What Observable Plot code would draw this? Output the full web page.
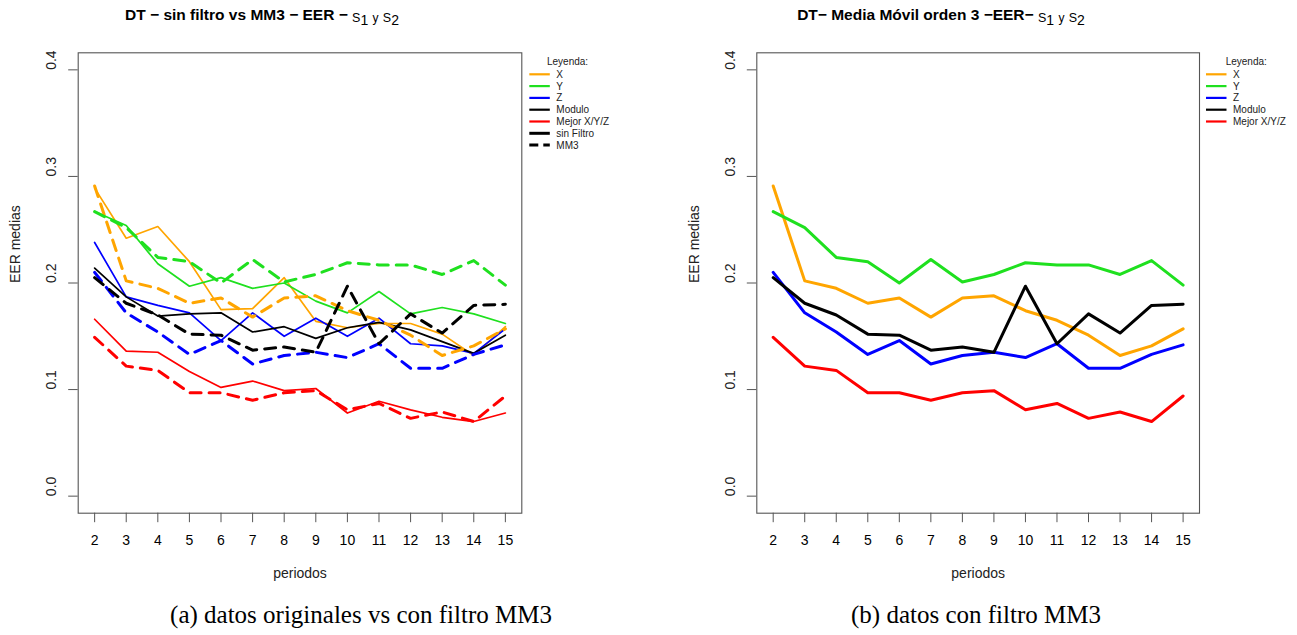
<!DOCTYPE html>
<html><head><meta charset="utf-8">
<script src="https://cdn.jsdelivr.net/npm/d3@7"></script>
<script src="https://cdn.jsdelivr.net/npm/@observablehq/plot@0.6"></script>
<style>
body{margin:0;background:#fff;font-family:"Liberation Sans",Arial,sans-serif;}
#wrap{position:relative;width:1297px;height:635px;overflow:hidden;background:#fff;}
.panel{position:absolute;top:0;}
.title{position:absolute;font-weight:bold;font-size:15.5px;line-height:18px;white-space:nowrap;transform:translateX(-50%);color:#000;}
.title .s{font-weight:normal;font-size:12.5px;position:relative;top:2px;}
.title .d{font-weight:normal;font-size:14px;position:relative;top:5px;}
.title .y{font-weight:normal;font-size:12px;position:relative;top:2px;}
.caption{position:absolute;font-family:"Liberation Serif","DejaVu Serif",serif;font-size:25px;white-space:nowrap;transform:translateX(-50%);color:#000;}
svg.leg{position:absolute;left:0;top:0;overflow:visible;}
</style></head><body><div id="wrap"></div>
<script>
// ---- data ----
const periods = [2,3,4,5,6,7,8,9,10,11,12,13,14,15];
const periodLabels = ["2","3","4","5","6","7","8","9","10","11","12","13","14","15"];
const yTicks = [0, 0.1, 0.2, 0.3, 0.4];
const yTickLabels = ["0.0","0.1","0.2","0.3","0.4"];

const seriesNames = ["X","Y","Z","Modulo","Mejor X/Y/Z"];
const seriesColors = ["#FFA500","#1FE01F","#0000FF","#000000","#FF0000"];

// sin filtro (original data)
const rawX    = [0.289,0.242,0.253,0.220,0.175,0.176,0.205,0.164,0.158,0.162,0.162,0.152,0.132,0.159];
const rawY    = [0.267,0.254,0.218,0.197,0.205,0.195,0.200,0.183,0.172,0.192,0.171,0.177,0.171,0.162];
const rawZ    = [0.238,0.187,0.179,0.172,0.146,0.172,0.150,0.167,0.150,0.167,0.143,0.141,0.134,0.157];
const rawMod  = [0.214,0.187,0.169,0.171,0.172,0.154,0.159,0.148,0.158,0.163,0.156,0.145,0.134,0.151];
const rawBest = [0.166,0.136,0.135,0.117,0.102,0.108,0.099,0.101,0.078,0.089,0.081,0.074,0.070,0.078];

// media movil orden 3 (MM3)
const mmX    = [0.291,0.202,0.195,0.181,0.186,0.168,0.186,0.188,0.174,0.165,0.151,0.132,0.141,0.157];
const mmY    = [0.267,0.252,0.224,0.220,0.200,0.222,0.201,0.208,0.219,0.217,0.217,0.208,0.221,0.198];
const mmZ    = [0.210,0.172,0.154,0.133,0.146,0.124,0.132,0.135,0.130,0.143,0.120,0.120,0.133,0.142];
const mmMod  = [0.205,0.181,0.170,0.152,0.151,0.137,0.140,0.135,0.197,0.143,0.171,0.153,0.179,0.180];
const mmBest = [0.149,0.122,0.118,0.097,0.097,0.090,0.097,0.099,0.081,0.087,0.073,0.079,0.070,0.094];

const titleLeft = "DT − sin filtro vs MM3 − EER − ";
const titleRight = "DT− Media Móvil orden 3 −EER− ";
const captionLeft = "(a) datos originales vs con filtro MM3";
const captionRight = "(b) datos con filtro MM3";
const xLabel = "periodos";
const yLabel = "EER medias";
const legendTitle = "Leyenda:";
const legendExtraLeft = ["sin Filtro","MM3"];

// ---- build ----
const rawSeries = [rawX, rawY, rawZ, rawMod, rawBest];
const mmSeries = [mmX, mmY, mmZ, mmMod, mmBest];
function rows(arrs) {
  const out = [];
  arrs.forEach((vals, s) => periods.forEach((p, i) => out.push({p, v: vals[i], key: seriesNames[s]})));
  return out;
}
const rawRows = rows(rawSeries);
const mmRows = rows(mmSeries);
const colorScale = {domain: seriesNames, range: seriesColors};

function commonMarks(frameLeftDx) {
  return [
    Plot.frame({stroke: "#555", strokeWidth: 1.1}),
    Plot.axisX({ticks: periods, tickSize: 9.5, tickPadding: 12, stroke: "#555", fontSize: 14,
      tickFormat: d => periodLabels[periods.indexOf(d)], label: null}),
    Plot.axisY({ticks: yTicks, tickSize: 9.5, stroke: "#555", tickFormat: () => "", label: null}),
    Plot.text(yTicks, {y: d => d, text: (d, i) => yTickLabels[i], frameAnchor: "left", dx: -26.7, rotate: -90, fontSize: 14, fill: "#222"}),
    Plot.text([yLabel], {text: d => d, frameAnchor: "left", dx: frameLeftDx, rotate: -90, fontSize: 14, fill: "#222"}),
    Plot.text([xLabel], {text: d => d, frameAnchor: "bottom", dy: 64.3, fontSize: 14, fill: "#222"})
  ];
}

const base = {
  width: 648, height: 600,
  marginTop: 52.3, marginBottom: 87.3,
  x: {domain: [1.48, 15.52]},
  y: {domain: [-0.016, 0.416]},
  color: colorScale,
  style: {fontFamily: "'Liberation Sans', Arial, sans-serif", fontSize: "14px", color: "#000", background: "transparent", overflow: "visible"}
};

const left = Plot.plot({
  ...base,
  marginLeft: 77.7, marginRight: 648 - 521.3,
  marks: [
    ...commonMarks(-62.7),
    Plot.line(rawRows, {x: "p", y: "v", z: "key", stroke: "key", strokeWidth: 1.7}),
    Plot.line(mmRows, {x: "p", y: "v", z: "key", stroke: "key", strokeWidth: 3, strokeDasharray: "11,8"})
  ]
});

const right = Plot.plot({
  ...base,
  marginLeft: 756.3 - 678, marginRight: 648 - (1199 - 678),
  marks: [
    ...commonMarks(-62.3),
    Plot.line(mmRows, {x: "p", y: "v", z: "key", stroke: "key", strokeWidth: 3})
  ]
});

const wrap = document.getElementById("wrap");
left.classList.add("panel"); left.style.left = "0px";
right.classList.add("panel"); right.style.left = "678px";
wrap.appendChild(left);
wrap.appendChild(right);

// titles
function addTitle(text, cx) {
  const d = document.createElement("div");
  d.className = "title";
  d.style.left = cx + "px";
  d.style.top = "6px";
  d.innerHTML = text + '<span class="s">S</span><span class="d">1</span> <span class="y">y</span> <span class="s">S</span><span class="d">2</span>';
  wrap.appendChild(d);
}
addTitle(titleLeft, 262);
addTitle(titleRight, 941);

// captions
function addCaption(text, cx) {
  const d = document.createElement("div");
  d.className = "caption";
  d.textContent = text;
  d.style.left = cx + "px";
  d.style.top = "601px";
  wrap.appendChild(d);
}
addCaption(captionLeft, 361);
addCaption(captionRight, 976);

// legends
const NS = "http://www.w3.org/2000/svg";
function addLegend(x0, titleX, items) {
  const svg = document.createElementNS(NS, "svg");
  svg.setAttribute("class", "leg");
  svg.setAttribute("width", 1297); svg.setAttribute("height", 635);
  svg.style.pointerEvents = "none";
  const t = document.createElementNS(NS, "text");
  t.setAttribute("x", titleX); t.setAttribute("y", 61); t.setAttribute("dy", "0.35em");
  t.setAttribute("font-size", 10); t.setAttribute("font-family", "Liberation Sans, Arial, sans-serif");
  t.setAttribute("fill", "#222");
  t.textContent = legendTitle;
  svg.appendChild(t);
  items.forEach((it, i) => {
    const y = 74.3 + i * 11.8;
    const l = document.createElementNS(NS, "line");
    l.setAttribute("x1", x0); l.setAttribute("x2", x0 + 20.5);
    l.setAttribute("y1", y); l.setAttribute("y2", y);
    l.setAttribute("stroke", it.color); l.setAttribute("stroke-width", it.w);
    if (it.dash) l.setAttribute("stroke-dasharray", it.dash);
    svg.appendChild(l);
    const tx = document.createElementNS(NS, "text");
    tx.setAttribute("x", x0 + 27); tx.setAttribute("y", y); tx.setAttribute("dy", "0.35em");
    tx.setAttribute("font-size", 10); tx.setAttribute("font-family", "Liberation Sans, Arial, sans-serif");
    tx.setAttribute("fill", "#222");
    tx.textContent = it.label;
    svg.appendChild(tx);
  });
  wrap.appendChild(svg);
}
const baseItems = seriesNames.map((n, i) => ({label: n, color: seriesColors[i], w: 2.2}));
addLegend(529.3, 547, [
  ...baseItems,
  {label: legendExtraLeft[0], color: "#000", w: 3},
  {label: legendExtraLeft[1], color: "#000", w: 3, dash: "9,5"}
]);
addLegend(1206, 1225.7, baseItems);
</script>
</body></html>
